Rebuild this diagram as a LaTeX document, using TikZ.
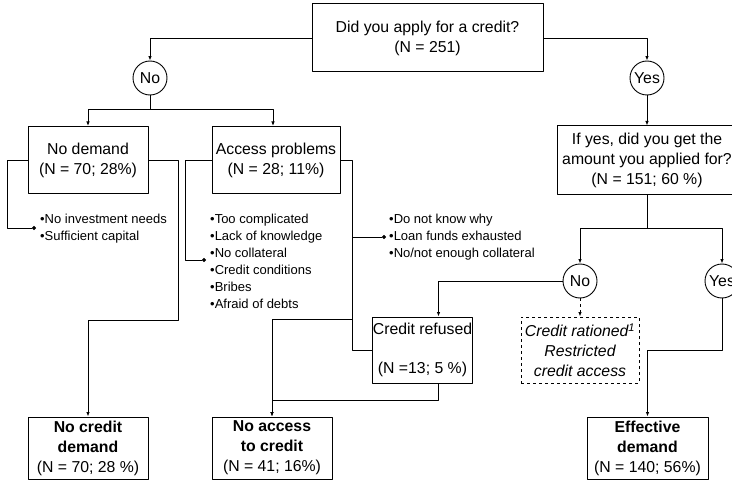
\documentclass[tikz,border=0pt]{standalone}
\usepackage{fontspec}
\setmainfont{Liberation Sans}
\usetikzlibrary{arrows.meta}
\tikzset{
  box/.style={draw,line width=1pt,align=center,inner sep=0pt,minimum height=67pt},
  answer/.style={draw,circle,line width=0.9pt,inner sep=0pt,minimum size=34pt},
  reasons/.style={anchor=west,align=left,inner sep=0pt,font=\fontsize{13}{17}\selectfont},
  link/.style={line width=0.9pt,-{Latex[length=4.5pt,width=3.5pt]}},
  hook/.style={line width=0.9pt,-{Circle[length=4pt]}},
}
\begin{document}
\begin{tikzpicture}[x=1pt,y=-1pt,font=\fontsize{15.8}{20}\selectfont,line join=round]
	\useasboundingbox (0,0) rectangle (732,487);
	\clip (0,0) rectangle (732,487);
	% question and first answers
	\node[box,minimum width=231pt,minimum height=68pt] (q1) at (427.5,38) {Did you apply for a credit?\\(N = 251)};
	\node[answer] (no1) at (150,78) {No};
	\node[answer] (yes1) at (647,78) {Yes};
	\node[box,minimum width=120pt] (nodem) at (88,160) {No demand\\(N = 70; 28\%)};
	\node[box,minimum width=128pt] (access) at (276,160) {Access problems\\(N = 28; 11\%)};
	\node[box,minimum width=180pt,minimum height=68pt] (ifyes) at (647,160) {If yes, did you get the\\amount you applied for?\\(N = 151; 60 \%)};
	\node[answer] (no2) at (580,281) {No};
	\node[answer] (yes2) at (722,281) {Yes};
	\node[box,minimum width=89pt,minimum height=66pt] (refused) at (422.5,350) {Credit refused\\[19pt](N =13; 5 \%)};
	\node[box,dashed,minimum width=118pt,minimum height=66pt,font=\fontsize{15.8}{20}\selectfont\itshape] (rationed) at (580,350) {Credit rationed\textsuperscript{1}\\Restricted\\credit access};
	% outcomes
	\node[box,minimum width=120pt,minimum height=62pt] (nocd) at (88,448) {\textbf{No credit}\\\textbf{demand}\\(N = 70; 28 \%)};
	\node[box,minimum width=120pt,minimum height=62pt] (noacc) at (272,448) {\textbf{No access}\\\textbf{to credit}\\(N = 41; 16\%)};
	\node[box,minimum width=121pt,minimum height=62pt] (effective) at (647.5,448) {\textbf{Effective}\\\textbf{demand}\\(N = 140; 56\%)};
	% reasons
	\node[reasons] (ndlist) at (40,228.5) {•No investment needs\\•Sufficient capital};
	\node[reasons] (aplist) at (210,261.5) {•Too complicated\\•Lack of knowledge\\•No collateral\\•Credit conditions\\•Bribes\\•Afraid of debts};
	\node[reasons] (crlist) at (389,237) {•Do not know why\\•Loan funds exhausted\\•No/not enough collateral};
	\coordinate (nddot) at (36,228);
	\coordinate (apdot) at (206,260);
	\coordinate (crdot) at (386,237);

	\draw[link](q1.west) -| (no1.north);
	\draw[link](q1.east) -| (yes1.north);
	\draw[link](no1.south) -- ++(0,14) -| (nodem.north);
	\draw[link](no1.south) -- ++(0,14) -| ([xshift=-3pt]access.north);
	\draw[link](yes1.south) -- (ifyes.north);
	\draw[link](ifyes.south) -- ++(0,34) -| (no2.north);
	\draw[link](ifyes.south) -- ++(0,34) -| (yes2.north);
	\draw[link](no2.west) -| ([xshift=16pt]refused.north);
	\draw[link,dashed](no2.south) -- (rationed.north);
	\draw[link](yes2.south) -- ++(0,52) -| (effective.north);

	\draw[hook](nodem.west) -- ++(-20,0) |- (nddot);
	\draw[hook](access.west) -- ++(-26,0) |- (apdot);
	\draw[hook](refused.west) -- ++(-20,0) |- (crdot);
	\draw[link](nodem.east) -- ++(30,0) -- ++(0,160) -| (nocd.north);
	\draw[link](access.east) -- ++(12,0) -- ++(0,159) -| (noacc.north);
	\draw[link]([xshift=16pt]refused.south) -- ++(0,17) -| (noacc.north);
\end{tikzpicture}
\end{document}
